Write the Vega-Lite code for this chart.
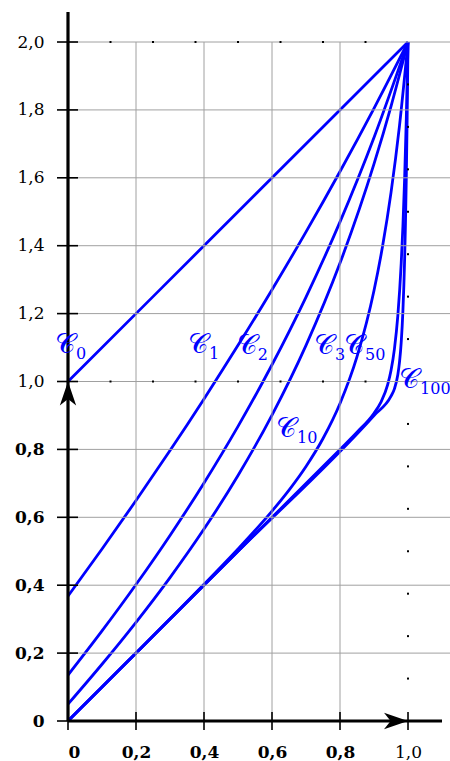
{
  "$schema": "https://vega.github.io/schema/vega-lite/v6.json",
  "autosize": {"type": "none"},
  "width": 382,
  "height": 709,
  "padding": {"left": 68, "top": 12, "right": 0, "bottom": 40},
  "background": "white",
  "config": {"view": {"stroke": null}},
  "datasets": {
    "curves": [
      {"n": "0", "x": 0, "y": 1}, {"n": "0", "x": 0.5, "y": 1.5}, {"n": "0", "x": 1, "y": 2},
      {"n": "1", "x": 0, "y": 0.3679}, {"n": "1", "x": 0.1, "y": 0.5066}, {"n": "1", "x": 0.2, "y": 0.6493},
      {"n": "1", "x": 0.3, "y": 0.7966}, {"n": "1", "x": 0.4, "y": 0.9488}, {"n": "1", "x": 0.5, "y": 1.1065},
      {"n": "1", "x": 0.6, "y": 1.2703}, {"n": "1", "x": 0.7, "y": 1.4408}, {"n": "1", "x": 0.8, "y": 1.6187},
      {"n": "1", "x": 0.9, "y": 1.8048}, {"n": "1", "x": 1, "y": 2},
      {"n": "2", "x": 0, "y": 0.1353}, {"n": "2", "x": 0.1, "y": 0.2653}, {"n": "2", "x": 0.2, "y": 0.4019},
      {"n": "2", "x": 0.3, "y": 0.5466}, {"n": "2", "x": 0.4, "y": 0.7012}, {"n": "2", "x": 0.5, "y": 0.8679},
      {"n": "2", "x": 0.6, "y": 1.0493}, {"n": "2", "x": 0.7, "y": 1.2488}, {"n": "2", "x": 0.8, "y": 1.4703},
      {"n": "2", "x": 0.9, "y": 1.7187}, {"n": "2", "x": 1, "y": 2},
      {"n": "3", "x": 0, "y": 0.0498}, {"n": "3", "x": 0.1, "y": 0.1672}, {"n": "3", "x": 0.2, "y": 0.2907},
      {"n": "3", "x": 0.3, "y": 0.4225}, {"n": "3", "x": 0.4, "y": 0.5653}, {"n": "3", "x": 0.5, "y": 0.7231},
      {"n": "3", "x": 0.6, "y": 0.9012}, {"n": "3", "x": 0.7, "y": 1.1066}, {"n": "3", "x": 0.8, "y": 1.3488},
      {"n": "3", "x": 0.9, "y": 1.6408}, {"n": "3", "x": 0.95, "y": 1.8107}, {"n": "3", "x": 1, "y": 2},
      {"n": "10", "x": 0, "y": 0}, {"n": "10", "x": 0.1, "y": 0.1001}, {"n": "10", "x": 0.2, "y": 0.2003},
      {"n": "10", "x": 0.3, "y": 0.3009}, {"n": "10", "x": 0.4, "y": 0.4025}, {"n": "10", "x": 0.5, "y": 0.5067},
      {"n": "10", "x": 0.6, "y": 0.6183}, {"n": "10", "x": 0.65, "y": 0.6802}, {"n": "10", "x": 0.7, "y": 0.7498},
      {"n": "10", "x": 0.75, "y": 0.8321}, {"n": "10", "x": 0.8, "y": 0.9353}, {"n": "10", "x": 0.85, "y": 1.0731},
      {"n": "10", "x": 0.9, "y": 1.2679}, {"n": "10", "x": 0.925, "y": 1.3974}, {"n": "10", "x": 0.95, "y": 1.5565},
      {"n": "10", "x": 0.975, "y": 1.7538}, {"n": "10", "x": 1, "y": 2},
      {"n": "50", "x": 0, "y": 0}, {"n": "50", "x": 0.5, "y": 0.5}, {"n": "50", "x": 0.8, "y": 0.8},
      {"n": "50", "x": 0.85, "y": 0.8506}, {"n": "50", "x": 0.9, "y": 0.9067}, {"n": "50", "x": 0.92, "y": 0.9383},
      {"n": "50", "x": 0.94, "y": 0.9898}, {"n": "50", "x": 0.95, "y": 1.0321}, {"n": "50", "x": 0.96, "y": 1.0953},
      {"n": "50", "x": 0.97, "y": 1.1931}, {"n": "50", "x": 0.98, "y": 1.3479}, {"n": "50", "x": 0.985, "y": 1.4574},
      {"n": "50", "x": 0.99, "y": 1.5965}, {"n": "50", "x": 0.995, "y": 1.7738}, {"n": "50", "x": 1, "y": 2},
      {"n": "100", "x": 0, "y": 0}, {"n": "100", "x": 0.5, "y": 0.5}, {"n": "100", "x": 0.9, "y": 0.9},
      {"n": "100", "x": 0.95, "y": 0.9567}, {"n": "100", "x": 0.96, "y": 0.9783}, {"n": "100", "x": 0.97, "y": 1.0198},
      {"n": "100", "x": 0.975, "y": 1.0571}, {"n": "100", "x": 0.98, "y": 1.1153}, {"n": "100", "x": 0.985, "y": 1.2081},
      {"n": "100", "x": 0.99, "y": 1.3579}, {"n": "100", "x": 0.9925, "y": 1.4649}, {"n": "100", "x": 0.995, "y": 1.6015},
      {"n": "100", "x": 0.9975, "y": 1.7763}, {"n": "100", "x": 1, "y": 2}
    ],
    "vgrid": [{"v": 0.2}, {"v": 0.4}, {"v": 0.6}, {"v": 0.8}],
    "hgrid": [{"v": 0.2}, {"v": 0.4}, {"v": 0.6}, {"v": 0.8}, {"v": 1.0}, {"v": 1.2}, {"v": 1.4}, {"v": 1.6}, {"v": 1.8}, {"v": 2.0}],
    "marksx": [{"x": 0, "y": 0}, {"x": 0.2, "y": 0}, {"x": 0.4, "y": 0}, {"x": 0.6, "y": 0}, {"x": 0.8, "y": 0}, {"x": 1.0, "y": 0}],
    "marksy": [{"x": 0, "y": 0}, {"x": 0, "y": 0.2}, {"x": 0, "y": 0.4}, {"x": 0, "y": 0.6}, {"x": 0, "y": 0.8}, {"x": 0, "y": 1.0}, {"x": 0, "y": 1.2}, {"x": 0, "y": 1.4}, {"x": 0, "y": 1.6}, {"x": 0, "y": 1.8}, {"x": 0, "y": 2.0}],
    "dots": [
      {"x": 0.125, "y": 1}, {"x": 0.25, "y": 1}, {"x": 0.375, "y": 1}, {"x": 0.5, "y": 1},
      {"x": 0.625, "y": 1}, {"x": 0.75, "y": 1}, {"x": 0.875, "y": 1},
      {"x": 0.125, "y": 2}, {"x": 0.25, "y": 2}, {"x": 0.375, "y": 2}, {"x": 0.5, "y": 2},
      {"x": 0.625, "y": 2}, {"x": 0.75, "y": 2}, {"x": 0.875, "y": 2},
      {"x": 1, "y": 0.125}, {"x": 1, "y": 0.25}, {"x": 1, "y": 0.375}, {"x": 1, "y": 0.5},
      {"x": 1, "y": 0.625}, {"x": 1, "y": 0.75}, {"x": 1, "y": 0.875}, {"x": 1, "y": 1.125},
      {"x": 1, "y": 1.25}, {"x": 1, "y": 1.375}, {"x": 1, "y": 1.5}, {"x": 1, "y": 1.625},
      {"x": 1, "y": 1.75}, {"x": 1, "y": 1.875}
    ],
    "labels": [
      {"x": -0.009, "y": 1.084, "sub": "0"},
      {"x": 0.382, "y": 1.084, "sub": "1"},
      {"x": 0.526, "y": 1.08, "sub": "2"},
      {"x": 0.753, "y": 1.08, "sub": "3"},
      {"x": 0.841, "y": 1.08, "sub": "50"},
      {"x": 0.641, "y": 0.837, "sub": "10"},
      {"x": 1.003, "y": 0.981, "sub": "100"}
    ],
    "axes": [
      {"x": 0, "y": 0, "x2": 1.1, "y2": 0},
      {"x": 0, "y": 0, "x2": 0, "y2": 2.0884}
    ],
    "arrows": [
      {"x": 1, "y": 0, "a": 90},
      {"x": 0, "y": 1, "a": 0}
    ]
  },
  "layer": [
    {
      "data": {"name": "curves"},
      "mark": {"type": "line", "color": "#0000ff", "strokeWidth": 2.8, "interpolate": "monotone"},
      "encoding": {
        "x": {
          "field": "x", "type": "quantitative", "title": null,
          "scale": {"domain": [0, 1.1235], "nice": false, "zero": false},
          "axis": {
            "values": [0, 0.2, 0.4, 0.6, 0.8, 1],
            "domain": false, "grid": false, "ticks": false,
            "labelFont": "DejaVu Serif", "labelFontSize": 17, "labelColor": "black", "labelPadding": 23,
            "labelExpr": "datum.value == 0 ? '0' : replace(format(datum.value, '.1f'), '.', ',')",
            "labelFontWeight": {"condition": {"test": "datum.value < 0.9", "value": "bold"}, "value": "normal"}
          }
        },
        "y": {
          "field": "y", "type": "quantitative", "title": null,
          "scale": {"domain": [0, 2.0884], "nice": false, "zero": false},
          "axis": {
            "values": [0, 0.2, 0.4, 0.6, 0.8, 1, 1.2, 1.4, 1.6, 1.8, 2],
            "domain": false, "grid": false, "ticks": false,
            "labelFont": "DejaVu Serif", "labelFontSize": 17, "labelColor": "black", "labelPadding": 24,
            "labelExpr": "datum.value == 0 ? '0' : replace(format(datum.value, '.1f'), '.', ',')",
            "labelFontWeight": {"condition": {"test": "datum.value < 0.9", "value": "bold"}, "value": "normal"}
          }
        },
        "detail": {"field": "n", "type": "nominal"}
      }
    },
    {
      "data": {"name": "hgrid"},
      "mark": {"type": "rule", "color": "#a0a0a0", "strokeWidth": 1, "zindex": -1},
      "encoding": {
        "y": {"field": "v", "type": "quantitative", "title": null},
        "x": {"datum": 0, "type": "quantitative", "title": null},
        "x2": {"datum": 1.1235}
      }
    },
    {
      "data": {"name": "vgrid"},
      "mark": {"type": "rule", "color": "#a0a0a0", "strokeWidth": 1, "zindex": -1},
      "encoding": {
        "x": {"field": "v", "type": "quantitative", "title": null},
        "y": {"datum": 0, "type": "quantitative", "title": null},
        "y2": {"datum": 2}
      }
    },
    {
      "data": {"name": "dots"},
      "mark": {"type": "point", "shape": "square", "filled": true, "color": "black", "size": 4, "opacity": 1},
      "encoding": {
        "x": {"field": "x", "type": "quantitative", "title": null},
        "y": {"field": "y", "type": "quantitative", "title": null}
      }
    },
    {
      "data": {"name": "axes"},
      "mark": {"type": "rule", "color": "black", "strokeWidth": 3.2},
      "encoding": {
        "x": {"field": "x", "type": "quantitative", "title": null},
        "y": {"field": "y", "type": "quantitative", "title": null},
        "x2": {"field": "x2"},
        "y2": {"field": "y2"}
      }
    },
    {
      "data": {"name": "marksx"},
      "mark": {"type": "rule", "color": "black", "strokeWidth": 1.6, "opacity": 1, "yOffset": 9},
      "encoding": {
        "x": {"field": "x", "type": "quantitative", "title": null},
        "y": {"field": "y", "type": "quantitative", "title": null},
        "y2": {"datum": 0.0265}
      }
    },
    {
      "data": {"name": "marksy"},
      "mark": {"type": "rule", "color": "black", "strokeWidth": 1.6, "opacity": 1, "xOffset": -11},
      "encoding": {
        "x": {"field": "x", "type": "quantitative", "title": null},
        "y": {"field": "y", "type": "quantitative", "title": null},
        "x2": {"datum": 0.0294}
      }
    },
    {
      "data": {"name": "arrows"},
      "mark": {"type": "point", "shape": "M0,0 L-0.68,2 L0,1.45 L0.68,2 Z", "filled": true, "color": "black", "size": 576, "opacity": 1, "strokeWidth": 0},
      "encoding": {
        "x": {"field": "x", "type": "quantitative", "title": null},
        "y": {"field": "y", "type": "quantitative", "title": null},
        "angle": {"field": "a", "type": "quantitative", "scale": null}
      }
    },
    {
      "data": {"name": "labels"},
      "mark": {"type": "text", "text": "𝒞", "color": "#0000ff", "font": "DejaVu Serif", "fontSize": 28, "align": "center", "baseline": "alphabetic"},
      "encoding": {
        "x": {"field": "x", "type": "quantitative", "title": null},
        "y": {"field": "y", "type": "quantitative", "title": null}
      }
    },
    {
      "data": {"name": "labels"},
      "mark": {"type": "text", "color": "#0000ff", "font": "DejaVu Serif", "fontSize": 16, "align": "left", "baseline": "alphabetic", "dx": 11, "dy": 6},
      "encoding": {
        "x": {"field": "x", "type": "quantitative", "title": null},
        "y": {"field": "y", "type": "quantitative", "title": null},
        "text": {"field": "sub"}
      }
    }
  ]
}
